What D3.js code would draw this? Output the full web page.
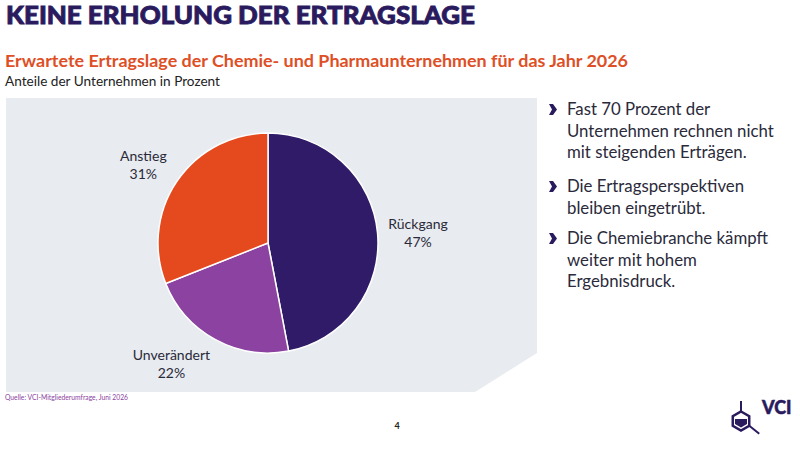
<!DOCTYPE html>
<html>
<head>
<meta charset="utf-8">
<script src="https://cdn.jsdelivr.net/npm/d3@7"></script>
<style>
  body { margin: 0; background: #fff; }
  svg { display: block; }
</style>
</head>
<body>
<div id="content"></div>
<script>
// data
let categories = ['Rückgang', 'Unverändert', 'Anstieg'];
let values = [47, 22, 31];
let colors = ['#2f1b68', '#8b42a0', '#e54a1f'];

let bullets = [
	['Fast 70 Prozent der', 'Unternehmen rechnen nicht', 'mit steigenden Erträgen.'],
	['Die Ertragsperspektiven', 'bleiben eingetrübt.'],
	['Die Chemiebranche kämpft', 'weiter mit hohem', 'Ergebnisdruck.']
];

let width = 800, height = 452;

let svg = d3.select('#content').append('svg')
	.attr('width', width)
	.attr('height', height);

// headings
svg.append('text')
	.attr('x', 6).attr('y', 23.5)
	.attr('font-family', 'Lato').attr('font-weight', 900)
	.attr('font-size', 25)
	.attr('textLength', 469).attr('lengthAdjust', 'spacingAndGlyphs')
	.attr('fill', '#2a1a5e')
	.attr('stroke', '#2a1a5e').attr('stroke-width', 0.9)
	.text('KEINE ERHOLUNG DER ERTRAGSLAGE');

svg.append('text')
	.attr('x', 5).attr('y', 67)
	.attr('font-family', 'Lato').attr('font-weight', 700)
	.attr('font-size', 17.5)
	.attr('textLength', 623).attr('lengthAdjust', 'spacingAndGlyphs')
	.attr('fill', '#de4f26')
	.text('Erwartete Ertragslage der Chemie- und Pharmaunternehmen für das Jahr 2026');

svg.append('text')
	.attr('x', 5).attr('y', 85.5)
	.attr('font-family', 'Lato')
	.attr('font-size', 13.5)
	.attr('textLength', 215).attr('lengthAdjust', 'spacingAndGlyphs')
	.attr('fill', '#222')
	.text('Anteile der Unternehmen in Prozent');

// grey panel with cut corner
svg.append('path')
	.attr('d', 'M6,98 L537,98 L537,353 L475,392 L6,392 Z')
	.attr('fill', '#e8ebef');

// pie
let cx = 268, cy = 243, r = 110;

let pie = d3.pie().sort(null).value(d => d.value);
let arc = d3.arc().innerRadius(0).outerRadius(r);
let labelArc = d3.arc().innerRadius(r * 1.37).outerRadius(r * 1.37);

let data = categories.map((c, i) => ({name: c, value: values[i], color: colors[i]}));
let arcs = pie(data);

let g = svg.append('g').attr('transform', `translate(${cx},${cy})`);

g.selectAll('path.slice')
	.data(arcs)
	.join('path')
	.attr('class', 'slice')
	.attr('d', arc)
	.attr('fill', d => d.data.color)
	.attr('stroke', '#fff')
	.attr('stroke-width', 1.5);

let labels = g.selectAll('g.label')
	.data(arcs)
	.join('g')
	.attr('class', 'label')
	.attr('transform', d => {
		let [x, y] = labelArc.centroid(d);
		if (d.data.name === 'Unverändert') { x -= 24; y -= 12; }
		if (d.data.name === 'Anstieg') { y += 6; }
		if (d.data.name === 'Rückgang') { y += 3; }
		return `translate(${x},${y})`;
	});

labels.append('text')
	.attr('text-anchor', 'middle')
	.attr('y', -3)
	.attr('font-family', 'Lato').attr('font-size', 14)
	.attr('fill', '#2a2a3a')
	.text(d => d.data.name);

labels.append('text')
	.attr('text-anchor', 'middle')
	.attr('y', 15)
	.attr('font-family', 'Lato').attr('font-size', 14)
	.attr('fill', '#2a2a3a')
	.text(d => d.data.value + '%');

// bullets
let lineH = 21.5;
let blockY = [115, 192, 244];
bullets.forEach((lines, i) => {
	let y0 = blockY[i];
	svg.append('path')
		.attr('d', `M549,${y0 - 11} L553,${y0 - 11} L557,${y0 - 5.5} L553,${y0} L549,${y0} L552,${y0 - 5.5} Z`)
		.attr('fill', '#2a1a5e');
	lines.forEach((t, j) => {
		svg.append('text')
			.attr('x', 567).attr('y', y0 + j * lineH)
			.attr('font-family', 'Lato').attr('font-size', 16.8)
			.attr('fill', '#2a2a3a')
			.text(t);
	});
});

// source
svg.append('text')
	.attr('x', 5).attr('y', 400)
	.attr('font-family', 'Lato').attr('font-size', 7.5)
	.attr('textLength', 123).attr('lengthAdjust', 'spacingAndGlyphs')
	.attr('fill', '#8b42a0')
	.text('Quelle: VCI-Mitgliederumfrage, Juni 2026');

// page number
svg.append('text')
	.attr('x', 397).attr('y', 429)
	.attr('text-anchor', 'middle')
	.attr('font-family', 'Lato').attr('font-weight', 700).attr('font-size', 9)
	.attr('fill', '#222')
	.text('4');

// logo
let hx = 741, hy = 421, hr = 9.5;
let hex = d3.range(6).map(k => {
	let a = Math.PI / 3 * k - Math.PI / 2;
	return [hx + hr * Math.cos(a), hy + hr * Math.sin(a)];
});
let logo = svg.append('g');
logo.append('line')
	.attr('x1', hx).attr('y1', hy - hr).attr('x2', hx).attr('y2', 401)
	.attr('stroke', '#2a1a5e').attr('stroke-width', 2);
logo.append('line')
	.attr('x1', hex[2][0]).attr('y1', hex[2][1]).attr('x2', hex[2][0] + 10).attr('y2', hex[2][1] + 8)
	.attr('stroke', '#2a1a5e').attr('stroke-width', 2);
logo.append('polygon')
	.attr('points', hex.map(p => p.join(',')).join(' '))
	.attr('fill', 'none').attr('stroke', '#2a1a5e').attr('stroke-width', 2.5);
logo.append('path')
	.attr('d', `M${hx - 6},${hy - 2} L${hx + 6},${hy - 2} L${hx + 6},${hy + 3} L${hx},${hy + 6.5} L${hx - 6},${hy + 3} Z`)
	.attr('fill', '#2a1a5e');
svg.append('text')
	.attr('x', 762).attr('y', 414)
	.attr('font-family', 'Lato').attr('font-weight', 900).attr('font-size', 18)
	.attr('fill', '#2a1a5e')
	.attr('stroke', '#2a1a5e').attr('stroke-width', 0.5)
	.text('VCI');
</script>
</body>
</html>
